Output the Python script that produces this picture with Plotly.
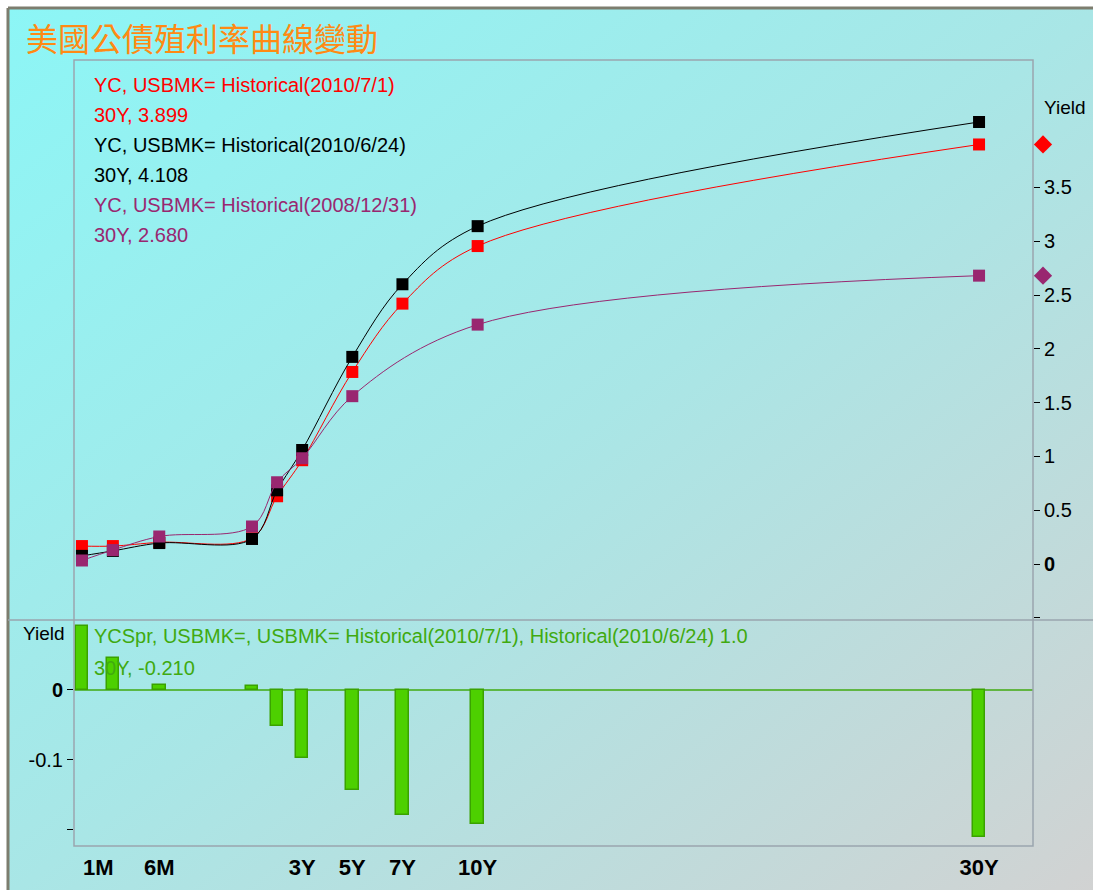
import base64
import plotly.graph_objects as go

# ---------------- data ----------------
maturities = ["1M", "3M", "6M", "1Y", "2Y", "3Y", "5Y", "7Y", "10Y", "30Y"]
years = [1/12, 0.25, 0.5, 1, 2, 3, 5, 7, 10, 30]

yc_20100701 = [0.167, 0.167, 0.202, 0.240, 0.630, 0.965, 1.785, 2.420, 2.955, 3.899]
yc_20100624 = [0.076, 0.122, 0.195, 0.233, 0.685, 1.060, 1.925, 2.600, 3.140, 4.108]
yc_20081231 = [0.033, 0.130, 0.256, 0.349, 0.760, 0.983, 1.560, None, 2.225, 2.680]
spread = [0.091, 0.045, 0.007, 0.006, -0.052, -0.097, -0.143, -0.178, -0.191, -0.210]

tick_labels = ["1M", "6M", "3Y", "5Y", "7Y", "10Y", "30Y"]
tick_years = [1/12, 0.5, 3, 5, 7, 10, 30]

title = "美國公債殖利率曲線變動"
legend_top = [
    ("YC, USBMK= Historical(2010/7/1)", "#ff0000"),
    ("30Y, 3.899", "#ff0000"),
    ("YC, USBMK= Historical(2010/6/24)", "#000000"),
    ("30Y, 4.108", "#000000"),
    ("YC, USBMK= Historical(2008/12/31)", "#992770"),
    ("30Y, 2.680", "#992770"),
]
legend_bottom = [
    "YCSpr, USBMK=, USBMK= Historical(2010/7/1), Historical(2010/6/24) 1.0",
    "30Y, -0.210",
]

# ---------------- layout helpers ----------------
W, H = 1093, 890
def px(x):
    return x / W
def py(y):
    return 1 - y / H

SHORT = 7.4  # axis expansion of the money-market end (0..1Y)
def u(t):
    return t * SHORT if t <= 1 else SHORT + (t - 1)

xs = [u(t) for t in years]
X0_PX, PX_PER_U = 66.5, 25.07
def u_at(pxl):
    return (pxl - X0_PX) / PX_PER_U
XR = [u_at(74), u_at(1033)]
XR_WIDE = [u_at(74), u_at(1093)]

RED, BLACK, PURPLE = "#ff0000", "#000000", "#992770"
GREEN_FILL, GREEN_LINE, GREEN_TEXT = "#4dd000", "#3aa200", "#40aa10"
FRAME = "#9aa5ae"
FONT = "Liberation Sans, Arial, sans-serif"

fig = go.Figure()

for vals, col, name in [(yc_20100701, RED, "2010/7/1"),
                        (yc_20100624, BLACK, "2010/6/24"),
                        (yc_20081231, PURPLE, "2008/12/31")]:
    fig.add_trace(go.Scatter(
        x=xs, y=vals, mode="lines+markers", name=name,
        line=dict(color=col, width=1, shape="spline", smoothing=1.0),
        connectgaps=True,
        marker=dict(symbol="square", size=12, color=col, line=dict(width=0)),
        xaxis="x", yaxis="y", showlegend=False))

# last-value diamonds beside the right axis (on a wider, invisible x axis)
fig.add_trace(go.Scatter(
    x=[u_at(1043), u_at(1043)], y=[yc_20100701[-1], yc_20081231[-1]],
    mode="markers", cliponaxis=False,
    marker=dict(symbol="diamond", size=14, color=[RED, PURPLE], line=dict(width=0)),
    xaxis="x3", yaxis="y", showlegend=False))

fig.add_trace(go.Bar(
    x=xs, y=spread, width=0.5,
    marker=dict(color=GREEN_FILL, line=dict(color=GREEN_LINE, width=1.5)),
    xaxis="x2", yaxis="y2", showlegend=False))

# background gradient
svg = (f'<svg xmlns="http://www.w3.org/2000/svg" width="{W}" height="{H}">'
       '<defs><linearGradient id="g" x1="0" y1="0" x2="1" y2="1">'
       '<stop offset="0" stop-color="#8cf6f6"/>'
       '<stop offset="0.5" stop-color="#a9e6e6"/>'
       '<stop offset="1" stop-color="#d2d2d2"/>'
       '</linearGradient></defs>'
       f'<rect x="8" y="8" width="{W}" height="{H}" fill="url(#g)"/></svg>')
src = "data:image/svg+xml;base64," + base64.b64encode(svg.encode()).decode()

annotations = [dict(text=title, x=px(24), y=py(37), xref="paper", yref="paper",
                    xanchor="left", yanchor="middle", showarrow=False,
                    font=dict(family="Noto Sans CJK TC", size=32, color="#ff8a14"))]
for i, (t, c) in enumerate(legend_top):
    annotations.append(dict(text=t, x=px(92), y=py(85 + 30 * i), xref="paper", yref="paper",
                            xanchor="left", yanchor="middle", showarrow=False,
                            font=dict(family=FONT, size=20, color=c)))
for i, t in enumerate(legend_bottom):
    annotations.append(dict(text=t, x=px(92), y=py(636 + 32 * i), xref="paper", yref="paper",
                            xanchor="left", yanchor="middle", showarrow=False,
                            font=dict(family=FONT, size=20, color=GREEN_TEXT)))
annotations.append(dict(text="Yield", x=px(1065), y=py(108), xref="paper", yref="paper",
                        xanchor="center", yanchor="middle", showarrow=False,
                        font=dict(family=FONT, size=19, color="black")))
annotations.append(dict(text="Yield", x=px(44), y=py(633), xref="paper", yref="paper",
                        xanchor="center", yanchor="middle", showarrow=False,
                        font=dict(family=FONT, size=19, color="black")))

shapes = [
    # outer frame (left & top)
    dict(type="line", xref="paper", yref="paper", x0=px(8), x1=px(8), y0=0, y1=py(8),
         line=dict(color="#7d7d6e", width=3)),
    dict(type="line", xref="paper", yref="paper", x0=px(8), x1=1, y0=py(8), y1=py(8),
         line=dict(color="#7d7d6e", width=3)),
    # plot frame
    dict(type="rect", xref="paper", yref="paper", x0=px(74), x1=px(1033), y0=py(846), y1=py(60),
         line=dict(color=FRAME, width=1.5)),
    # separator between panels
    dict(type="line", xref="paper", yref="paper", x0=px(8), x1=1, y0=py(620), y1=py(620),
         line=dict(color=FRAME, width=1.5)),
    # zero line in spread panel
    dict(type="line", xref="paper", yref="y2", x0=px(74), x1=px(1033), y0=0, y1=0,
         line=dict(color=GREEN_TEXT, width=1.5), layer="below"),
]

tickpos = [u(t) for t in tick_years]
tickpos[0] += 0.65  # 1M label nudged right, as in the source

fig.update_layout(
    width=W, height=H,
    margin=dict(l=0, r=0, t=0, b=0),
    paper_bgcolor="white", plot_bgcolor="rgba(0,0,0,0)",
    font=dict(family=FONT, size=20, color="black"),
    images=[dict(source=src, xref="paper", yref="paper", x=0, y=1, sizex=1, sizey=1,
                 xanchor="left", yanchor="top", sizing="stretch", layer="below")],
    annotations=annotations, shapes=shapes,
    bargap=0,
    xaxis=dict(domain=[px(74), px(1033)], range=XR, anchor="y",
               showticklabels=False, showgrid=False, zeroline=False, showline=False, ticks=""),
    xaxis3=dict(domain=[px(74), 1.0], range=XR_WIDE, anchor="y",
                visible=False, showgrid=False, zeroline=False),
    yaxis=dict(domain=[py(620), py(60)], range=[-0.520, 4.684], anchor="x", side="right",
               tickvals=[-0.5, 0, 0.5, 1, 1.5, 2, 2.5, 3, 3.5],
               ticktext=["", "<b>0</b>", "0.5", "1", "1.5", "2", "2.5", "3", "3.5"],
               ticks="outside", ticklen=6, tickcolor="black", tickwidth=1,
               showgrid=False, zeroline=False, showline=False,
               tickfont=dict(family=FONT, size=20, color="black")),
    xaxis2=dict(domain=[px(74), px(1033)], range=XR, anchor="y2",
                tickvals=tickpos, ticktext=[f"<b>{t}</b>" for t in tick_labels],
                ticks="", showgrid=False, zeroline=False, showline=False,
                ticklabelstandoff=6,
                tickfont=dict(family=FONT, size=22, color="black")),
    yaxis2=dict(domain=[py(846), py(620)], range=[-0.2229, 0.1], anchor="x2", side="left",
                tickvals=[-0.2, -0.1, 0], ticktext=["", "-0.1", "<b>0</b>"],
                ticks="outside", ticklen=6, tickcolor="black", tickwidth=1,
                showgrid=False, zeroline=False, showline=False,
                tickfont=dict(family=FONT, size=20, color="black")),
)

fig.write_html("out.html")
